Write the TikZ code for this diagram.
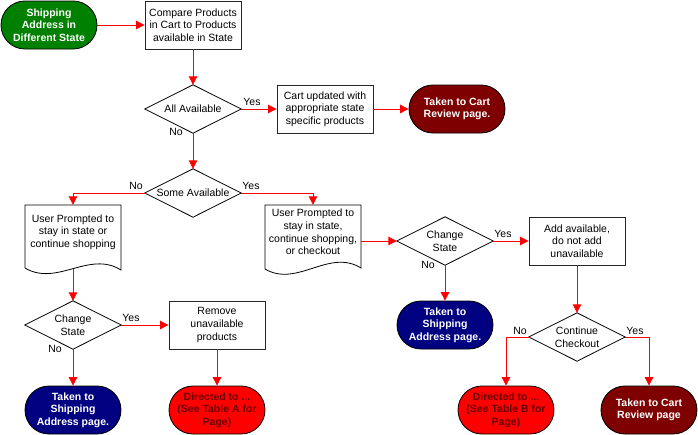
\documentclass[tikz,border=0pt]{standalone}
\usepackage{fontspec}
\setmainfont{Liberation Sans}
\usetikzlibrary{arrows.meta}
\definecolor{termgreen}{HTML}{008000}
\definecolor{termred}{HTML}{7F0000}
\definecolor{termnavy}{HTML}{000080}
\definecolor{termbright}{HTML}{FF0000}
\definecolor{dirtext}{HTML}{660000}
\tikzset{
  txt/.style={font=\fontsize{10.5}{12.6}\selectfont, align=center},
  procbox/.style={txt, draw=black!85, line width=0.9pt, minimum width=96pt, minimum height=48pt, inner sep=1pt},
  term/.style={txt, font=\fontsize{10.5}{12.6}\selectfont\bfseries, draw=black, line width=0.8pt,
     rounded corners=23.9pt, minimum width=96pt, minimum height=48pt, inner sep=1pt, text=white},
  dianode/.style={txt, minimum width=96pt, minimum height=48pt, inner sep=0pt},
  diashape/.style={draw=black, line width=0.8pt},
  docnode/.style={txt, minimum width=96pt, minimum height=54pt, inner sep=1pt},
  docshape/.style={draw=black, line width=0.8pt},
  flow/.style={draw=termbright, line width=0.9pt, -{Triangle[length=8.5pt,width=8.5pt]}},
  lbl/.style={font=\fontsize{10.5}{12.6}\selectfont, inner sep=0pt}
}
\newcommand{\diapath}[1]{\draw[diashape] (#1.north) -- (#1.east) -- (#1.south) -- (#1.west) -- cycle;}
\begin{document}
\begin{tikzpicture}[x=1pt,y=-1pt]
\useasboundingbox (0,0) rectangle (698,434);

% nodes
\node[term, fill=termgreen] (start) at (49,25) {Shipping\\Address in\\Different State};
\node[procbox] (compare) at (193,25) {Compare Products\\in Cart to Products\\available in State};
\node[dianode] (aa) at (193,109) {All Available};
\diapath{aa}
\node[procbox] (cart) at (325,109) {Cart updated with\\appropriate state\\specific products};
\node[term, fill=termred] (rev1) at (457,109) {Taken to Cart\\Review page.};
\node[dianode] (sa) at (193,193) {Some Available};
\diapath{sa}

\node[docnode] (ldoc) at (73,232) {User Prompted to\\stay in state or\\continue shopping};
\draw[docshape] (25,268) -- (25,205) -- (121,205) -- (121,270)
   .. controls (89,250) and (57,287) .. (25,268);
\coordinate (ldocb) at (73,269);

\node[docnode] (rdoc) at (313,232) {User Prompted to\\stay in state,\\continue shopping,\\or checkout};
\draw[docshape] (265,269) -- (265,205) -- (361,205) -- (361,268)
   .. controls (329,248) and (297,288) .. (265,269);
\coordinate (rdocb) at (361,241);

\node[dianode] (lcs) at (73,325) {Change\\State};
\diapath{lcs}
\node[procbox] (remove) at (217,325) {Remove\\unavailable\\products};
\node[term, fill=termnavy] (lship) at (73,410) {Taken to\\Shipping\\Address page.};
\node[term, fill=termbright, text=dirtext] (dira) at (217,410) {Directed to ...\\(See Table A for\\Page)};

\node[dianode] (rcs) at (445,241) {Change\\State};
\diapath{rcs}
\node[procbox] (add) at (577,241) {Add available,\\do not add\\unavailable};
\node[term, fill=termnavy] (rship) at (445,325) {Taken to\\Shipping\\Address page.};
\node[dianode] (cc) at (577,337) {Continue\\Checkout};
\diapath{cc}
\node[term, fill=termbright, text=dirtext] (dirb) at (506,410) {Directed to ...\\(See Table B for\\Page)};
\node[term, fill=termred] (rev2) at (649,410) {Taken to Cart\\Review page};

% connectors
\draw[flow] (start) -- (compare);
\draw[flow] (compare) -- (aa.north);
\draw[flow] (aa.east) -- (cart);
\draw[flow] (cart) -- (rev1);
\draw[flow] (aa.south) -- (sa.north);
\draw[flow] (sa.west) -| (ldoc.north);
\draw[flow] (sa.east) -| (rdoc.north);
\draw[flow] (ldocb) -- (lcs.north);
\draw[flow] (lcs.east) -- (remove);
\draw[flow] (lcs.south) -- (lship);
\draw[flow] (remove) -- (dira);
\draw[flow] (rdocb) -- (rcs.west);
\draw[flow] (rcs.east) -- (add);
\draw[flow] (rcs.south) -- (rship);
\draw[flow] (add) -- (cc.north);
\draw[flow] (cc.west) -| (dirb.north);
\draw[flow] (cc.east) -| (rev2.north);

% labels
\node[lbl] (l1) at (252,102) {Yes};
\node[lbl] (l2) at (176,132) {No};
\node[lbl] (l3) at (136,186) {No};
\node[lbl] (l4) at (251,186) {Yes};
\node[lbl] (l5) at (131,318) {Yes};
\node[lbl] (l6) at (55,349) {No};
\node[lbl] (l7) at (503,234) {Yes};
\node[lbl] (l8) at (428,265) {No};
\node[lbl] (l9) at (520,331) {No};
\node[lbl] (l10) at (635,331) {Yes};
\end{tikzpicture}
\end{document}
